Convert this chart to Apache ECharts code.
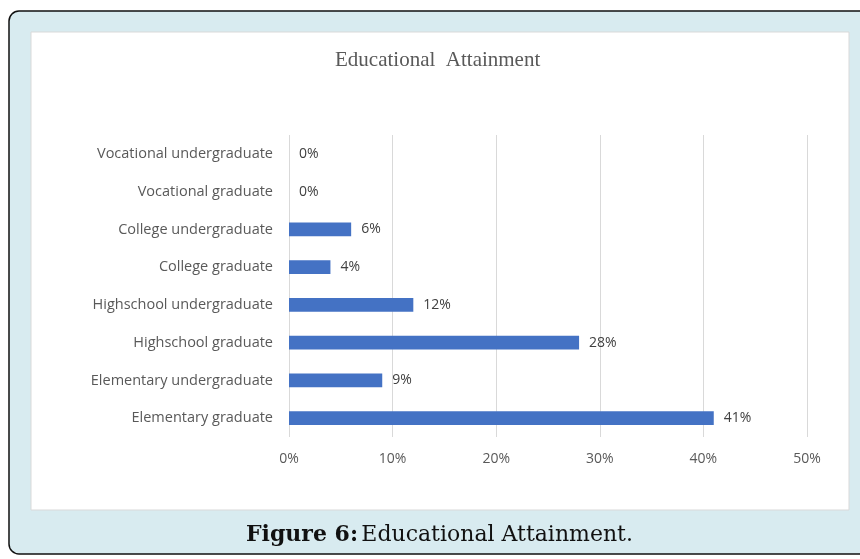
<!DOCTYPE html>
<html>
<head>
<meta charset="utf-8">
<script src="https://cdn.jsdelivr.net/npm/echarts@6/dist/echarts.min.js"></script>
<style>
  html, body { margin: 0; padding: 0; background: #ffffff; }
  #chart { width: 860px; height: 559px; }
</style>
</head>
<body>
<div id="chart"></div>
<script>
// Education levels, listed bottom to top as drawn on the category axis
const categories = [
  'Elementary graduate',
  'Elementary undergraduate',
  'Highschool graduate',
  'Highschool undergraduate',
  'College graduate',
  'College undergraduate',
  'Vocational graduate',
  'Vocational undergraduate'
];
// Share of respondents (%) per level
const shares = [41, 9, 28, 12, 4, 6, 0, 0];
// Value-axis ticks (%)
const tickValues = [0, 10, 20, 30, 40, 50];

const chart = echarts.init(document.getElementById('chart'), null, { renderer: 'canvas' });

const option = {
  animation: false,
  backgroundColor: '#ffffff',
  title: {
    text: 'Educational  Attainment',
    left: 330,
    top: 45,
    textStyle: {
      fontFamily: 'Liberation Serif',
      fontSize: 21,
      fontWeight: 'normal',
      color: '#595959'
    }
  },
  grid: {
    left: 289,
    right: 53,
    top: 135,
    bottom: 122,
    containLabel: false
  },
  xAxis: {
    type: 'value',
    min: tickValues[0],
    max: tickValues[tickValues.length - 1],
    interval: 10,
    axisLine: { show: false },
    axisTick: { show: false },
    splitLine: { show: true, lineStyle: { color: '#d9d9d9', width: 1 } },
    axisLabel: {
      formatter: v => v + '%',
      color: '#595959',
      fontFamily: 'Open Sans',
      fontSize: 14,
      margin: 15
    }
  },
  yAxis: {
    type: 'category',
    data: categories,
    axisLine: { show: false },
    axisTick: { show: false },
    axisLabel: {
      color: '#595959',
      fontFamily: 'Open Sans',
      fontSize: 14.5,
      margin: 16
    }
  },
  series: [{
    type: 'bar',
    data: shares,
    barCategoryGap: '64%',
    itemStyle: { color: '#4472c4' },
    label: {
      show: true,
      position: 'right',
      distance: 10,
      formatter: p => p.value + '%',
      color: '#404040',
      fontFamily: 'Open Sans',
      fontSize: 14
    }
  }],
  graphic: [
    {
      type: 'rect',
      z: -10,
      silent: true,
      shape: { x: 9, y: 11, width: 880, height: 543, r: 10 },
      style: { fill: '#d8ebf0', stroke: '#111111', lineWidth: 1.5 }
    },
    {
      type: 'rect',
      z: -9,
      silent: true,
      shape: { x: 31, y: 32, width: 818, height: 478 },
      style: { fill: '#ffffff', stroke: '#d9d9d9', lineWidth: 1 }
    },
    {
      type: 'text',
      silent: true,
      left: 246,
      top: 524,
      style: {
        text: '{b|Figure 6:} {n|Educational Attainment.}',
        rich: {
          b: { fontFamily: 'DejaVu Serif', fontWeight: 'bold', fontSize: 22, fill: '#111111' },
          n: { fontFamily: 'DejaVu Serif', fontSize: 22, fill: '#111111' }
        }
      }
    }
  ]
};

chart.setOption(option);
</script>
</body>
</html>
